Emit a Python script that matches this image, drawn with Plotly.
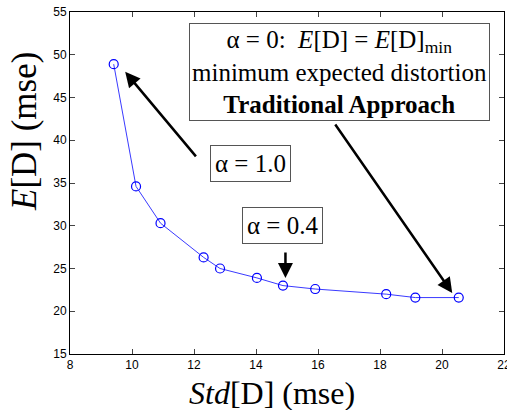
import plotly.graph_objects as go

std_d = [9.41, 10.13, 10.92, 12.31, 12.84, 14.03, 14.87, 15.91, 18.2, 19.14, 20.54]
exp_d = [48.9, 34.6, 30.3, 26.3, 25.0, 23.9, 23.0, 22.6, 22.0, 21.6, 21.6]

x_ticks = [8, 10, 12, 14, 16, 18, 20, 22]
y_ticks = [15, 20, 25, 30, 35, 40, 45, 50, 55]

fig = go.Figure()
fig.add_trace(go.Scatter(
    x=std_d, y=exp_d, mode="lines+markers",
    line=dict(color="#3a3aff", width=1),
    marker=dict(symbol="circle-open", size=9, color="#0000ff", line=dict(width=1.2)),
    showlegend=False,
))

serif = "Liberation Serif, Times New Roman, serif"
box_font = dict(family=serif, size=25, color="black")

# text boxes
fig.add_annotation(x=16.7, y=48.0, xref="x", yref="y", showarrow=False,
                   text="α = 0:  <i>E</i>[D] = <i>E</i>[D]<sub>min</sub><br>minimum expected distortion<br><b>Traditional Approach</b>",
                   font=box_font, bordercolor="#555", borderwidth=1, borderpad=2,
                   bgcolor="white", align="center")
fig.add_annotation(x=13.82, y=37.27, xref="x", yref="y", showarrow=False,
                   text="α = 1.0", font=box_font, bordercolor="#555", borderwidth=1,
                   borderpad=4, bgcolor="white")
fig.add_annotation(x=14.87, y=30.0, xref="x", yref="y", showarrow=False,
                   text="α = 0.4", font=box_font, bordercolor="#555", borderwidth=1,
                   borderpad=4, bgcolor="white")

# arrows
arrow = dict(showarrow=True, arrowhead=2, arrowsize=1.2, arrowwidth=2.5,
             arrowcolor="black", text="", xref="x", yref="y")
fig.add_annotation(x=9.78, y=48.0, ax=72, ay=86, **arrow)
fig.add_annotation(x=14.95, y=23.9, ax=0, ay=-27, **arrow)
fig.add_annotation(x=20.33, y=22.14, ax=-118, ay=-170, **arrow)

# axis titles (placed as in the reference, off-centre)
fig.add_annotation(x=0.465, y=-0.115, xref="paper", yref="paper", showarrow=False,
                   text="<i>Std</i>[D] (mse)", font=dict(family=serif, size=32, color="black"),
                   xanchor="center", yanchor="middle")
fig.add_annotation(x=-0.106, y=0.652, xref="paper", yref="paper", showarrow=False,
                   text="<i>E</i>[D] (mse)", font=dict(family=serif, size=35, color="black"),
                   textangle=-90, xanchor="center", yanchor="middle")

tick_font = dict(family="Liberation Sans, Arial, sans-serif", size=12, color="black")
fig.update_xaxes(range=[8, 22], tickvals=x_ticks, ticks="inside", ticklen=5,
                 showgrid=False, zeroline=False, showline=True, linecolor="black",
                 linewidth=1, mirror="ticks", tickfont=tick_font,
                 ticklabeloverflow="allow", automargin=False)
fig.update_yaxes(range=[15, 55], tickvals=y_ticks, ticks="inside", ticklen=5,
                 showgrid=False, zeroline=False, showline=True, linecolor="black",
                 linewidth=1, mirror="ticks", tickfont=tick_font, automargin=False)

fig.update_layout(width=507, height=410, margin=dict(l=70, r=3, t=12, b=56),
                  plot_bgcolor="white", paper_bgcolor="white")

fig.write_html("out.html")
